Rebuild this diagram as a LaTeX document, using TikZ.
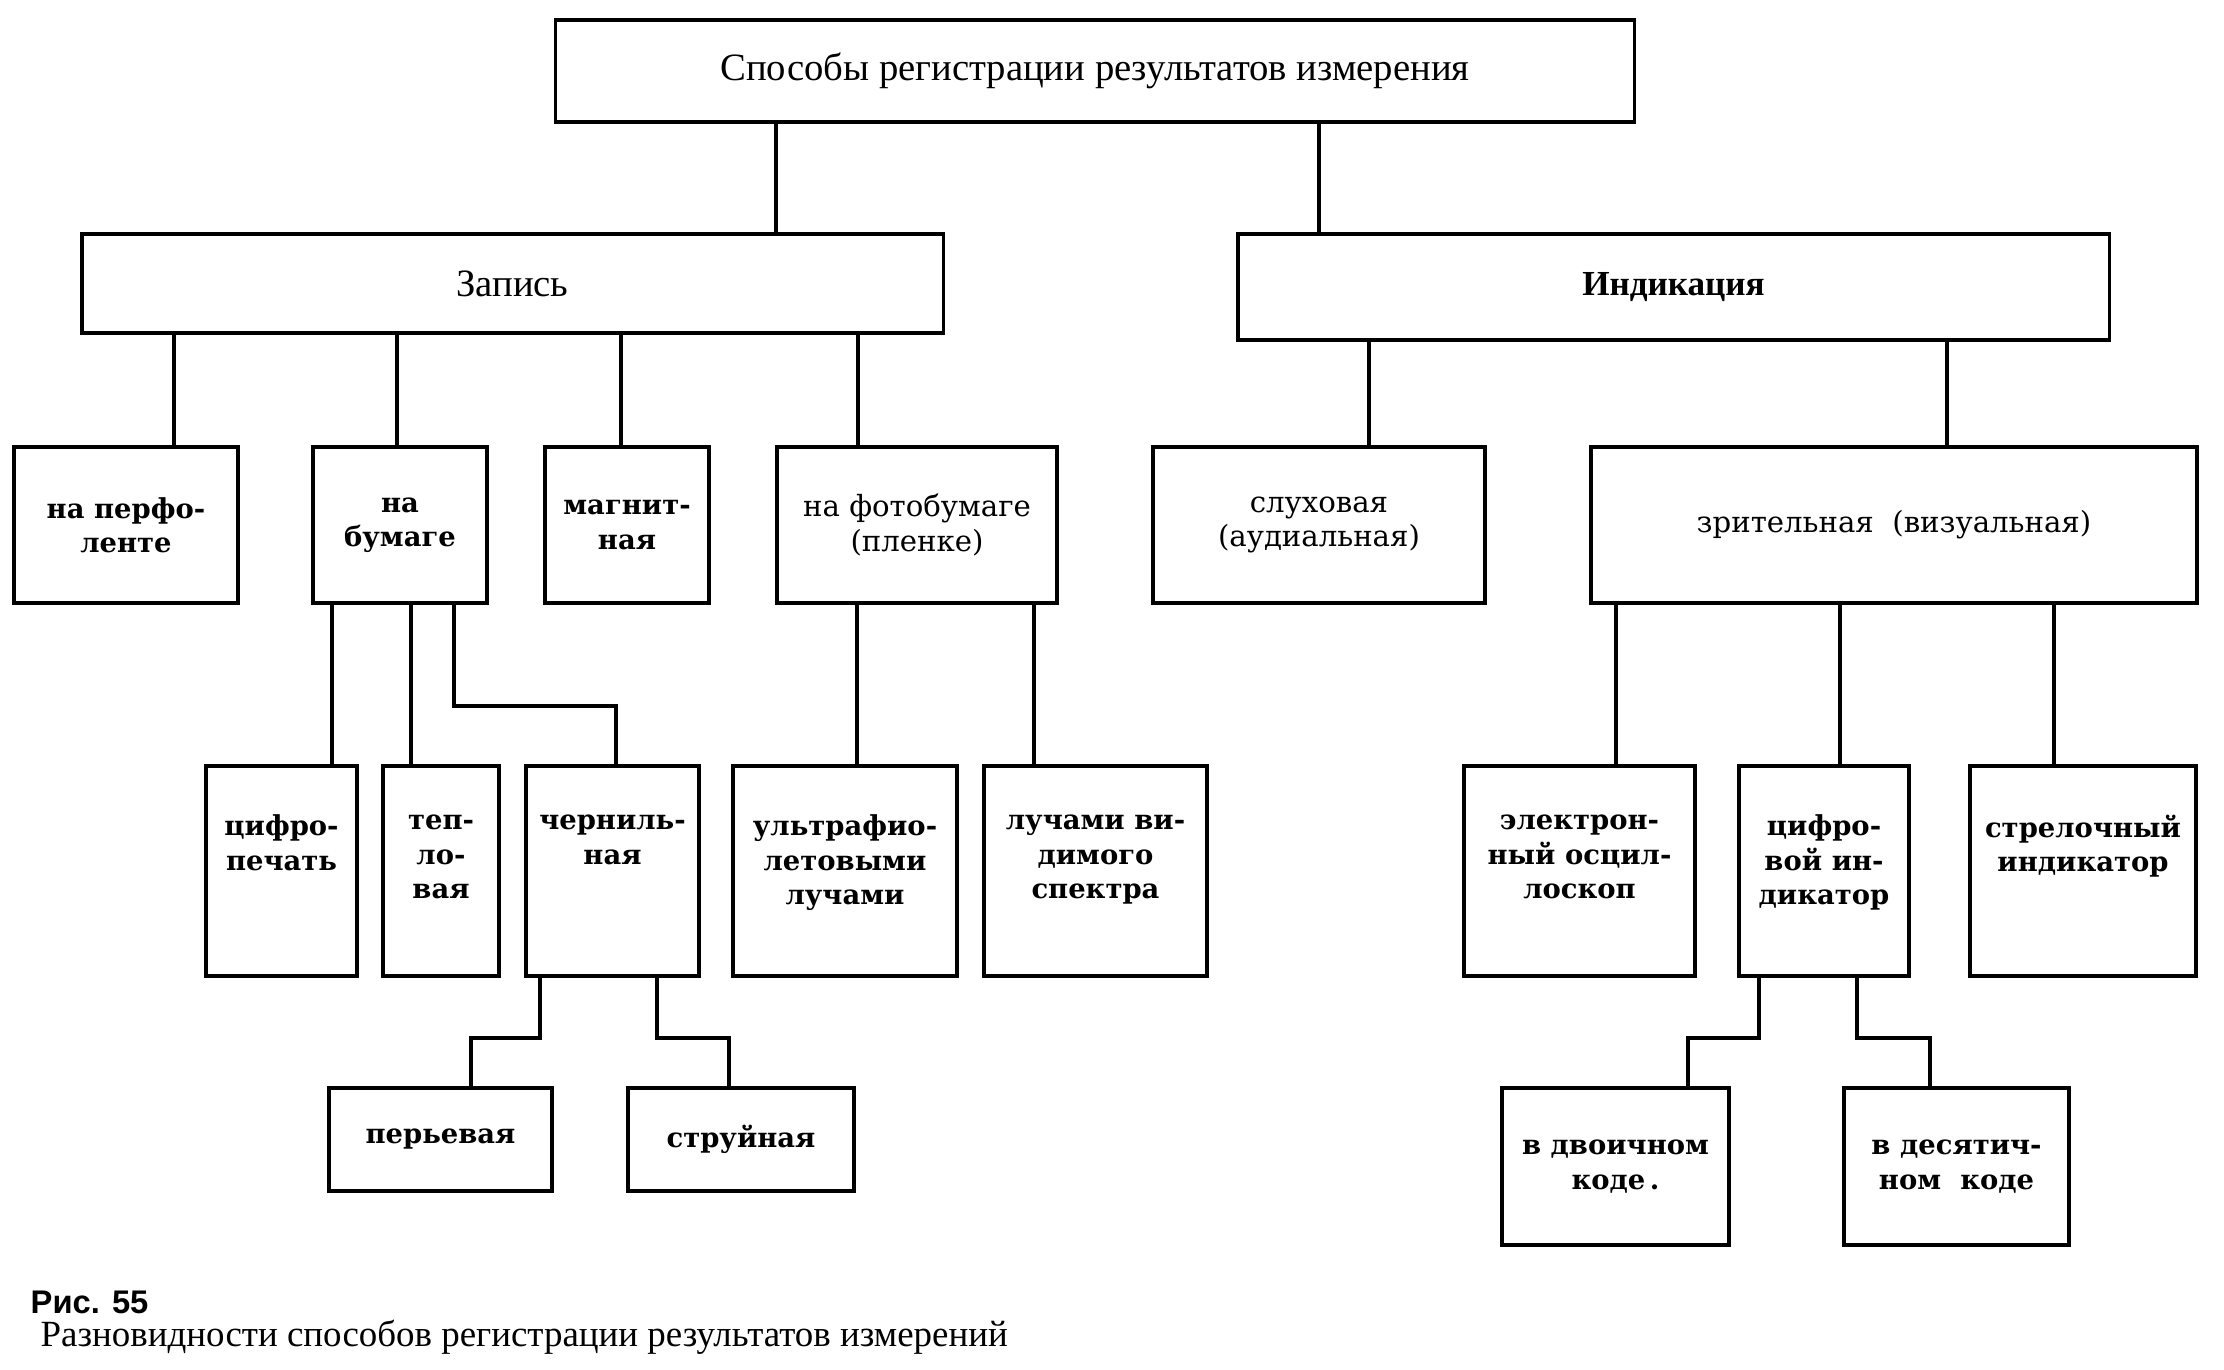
\documentclass[tikz,border=0pt]{standalone}
\usepackage{fontspec}
\setmainfont{Liberation Serif}
\newfontfamily\widefont{DejaVu Serif}
\newfontfamily\capfont{Liberation Sans}
\usetikzlibrary{positioning}

\tikzset{
  box/.style={draw, line width=1pt, inner sep=0pt, align=center},
  link/.style={line width=1pt},
  toptext/.style={font=\fontsize{11}{13}\selectfont},
  boldtext/.style={font=\widefont\bfseries\fontsize{7.8}{9.8}\selectfont},
  lighttext/.style={font=\widefont\fontsize{8.3}{9.8}\selectfont},
  lowtext/.style={boldtext, inner sep=0pt, align=center},
}

\begin{document}
\begin{tikzpicture}[x=0.01cm,y=-0.01cm]
    % поле рисунка
    \useasboundingbox[fill=white] (0,0) rectangle (2224,1369);

    % верхний уровень
    \node[box, toptext, minimum width=10.78cm, minimum height=1.02cm] (top) at (1095,71)
        {Способы регистрации результатов измерения};

    % первый уровень
    \node[box, toptext, minimum width=8.61cm, minimum height=0.99cm] (zap) at (512.5,283.5) {Запись};
    \node[box, toptext, font=\bfseries, minimum width=8.71cm, minimum height=1.06cm] (ind) at (1673.5,287) {Индикация};

    % второй уровень
    \node[box, boldtext, minimum width=2.24cm, minimum height=1.56cm] (perf) at (126,525) {на\ перфо-\\ленте};
    \node[box, boldtext, minimum width=1.74cm, minimum height=1.56cm] (bum) at (400,525) {на\\бумаге};
    \node[box, boldtext, minimum width=1.64cm, minimum height=1.56cm] (mag) at (627,525) {магнит-\\ная};
    \node[box, lighttext, minimum width=2.80cm, minimum height=1.56cm] (foto) at (917,525) {на\ фотобумаге\\(пленке)};
    \node[box, lighttext, minimum width=3.32cm, minimum height=1.56cm] (sluh) at (1319,525) {слуховая\\(аудиальная)};
    \node[box, lighttext, minimum width=6.06cm, minimum height=1.56cm] (zrit) at (1894,525) {зрительная\ \ (визуальная)};

    % третий уровень
    \node[box, minimum width=1.51cm, minimum height=2.10cm] (cif) at (281.5,871) {};
    \node[box, minimum width=1.16cm, minimum height=2.10cm] (tep) at (441,871) {};
    \node[box, minimum width=1.73cm, minimum height=2.10cm] (cher) at (612.5,871) {};
    \node[box, minimum width=2.24cm, minimum height=2.10cm] (ult) at (845,871) {};
    \node[box, minimum width=2.23cm, minimum height=2.10cm] (luch) at (1095.5,871) {};
    \node[box, minimum width=2.31cm, minimum height=2.10cm] (osc) at (1579.5,871) {};
    \node[box, minimum width=1.70cm, minimum height=2.10cm] (cind) at (1824,871) {};
    \node[box, minimum width=2.26cm, minimum height=2.10cm] (strel) at (2083,871) {};

    \node[lowtext, below=0.5cm of cif.north] (ciftx) {цифро-\\печать};
    \node[lowtext, below=0.5cm of tep.north] (teptx) {теп-\\ло-\\вая};
    \node[lowtext, below=0.5cm of cher.north] (chertx) {черниль-\\ная};
    \node[lowtext, below=0.5cm of ult.north] (ulttx) {ультрафио-\\летовыми\\лучами};
    \node[lowtext, below=0.5cm of luch.north] (luchtx) {лучами\ ви-\\димого\\спектра};
    \node[lowtext, below=0.5cm of osc.north] (osctx) {электрон-\\ный\ осцил-\\лоскоп};
    \node[lowtext, below=0.5cm of cind.north] (cindtx) {цифро-\\вой\ ин-\\дикатор};
    \node[lowtext, below=0.5cm of strel.north] (streltx) {стрелочный\\индикатор};

    % четвертый уровень
    \node[box, boldtext, minimum width=2.23cm, minimum height=1.03cm] (per) at (440.5,1139.5) {перьевая};
    \node[box, boldtext, minimum width=2.26cm, minimum height=1.03cm] (str) at (741,1139.5) {струйная};
    \node[box, boldtext, minimum width=2.27cm, minimum height=1.57cm] (dv) at (1615.5,1166.5) {в\ двоичном\\коде\,.};
    \node[box, boldtext, minimum width=2.25cm, minimum height=1.57cm] (des) at (1956.5,1166.5) {в\ десятич-\\ном\ \ коде};

    % связи верхнего уровня
    \draw[link] (top.south -| 776,0) -- (zap.north -| 776,0);
    \draw[link] (top.south -| 1319,0) -- (ind.north -| 1319,0);

    % связи записи
    \draw[link] (zap.south -| 174,0) -- (perf.north -| 174,0);
    \draw[link] (zap.south -| 397,0) -- (bum.north -| 397,0);
    \draw[link] (zap.south -| 621,0) -- (mag.north -| 621,0);
    \draw[link] (zap.south -| 858,0) -- (foto.north -| 858,0);

    % связи индикации
    \draw[link] (ind.south -| 1369,0) -- (sluh.north -| 1369,0);
    \draw[link] (ind.south -| 1947,0) -- (zrit.north -| 1947,0);

    % на бумаге
    \draw[link] (bum.south -| 332,0) -- (cif.north -| 332,0);
    \draw[link] (bum.south -| 411,0) -- (tep.north -| 411,0);
    \draw[link] (bum.south -| 454,0) |- (616,706) -- (cher.north -| 616,0);

    % на фотобумаге
    \draw[link] (foto.south -| 857,0) -- (ult.north -| 857,0);
    \draw[link] (foto.south -| 1034,0) -- (luch.north -| 1034,0);

    % зрительная
    \draw[link] (zrit.south -| 1616,0) -- (osc.north -| 1616,0);
    \draw[link] (zrit.south -| 1840,0) -- (cind.north -| 1840,0);
    \draw[link] (zrit.south -| 2054,0) -- (strel.north -| 2054,0);

    % чернильная
    \draw[link] (cher.south -| 540,0) |- (471,1038) -- (per.north -| 471,0);
    \draw[link] (cher.south -| 657,0) |- (729,1038) -- (str.north -| 729,0);

    % цифровой индикатор
    \draw[link] (cind.south -| 1759,0) |- (1688,1038) -- (dv.north -| 1688,0);
    \draw[link] (cind.south -| 1857,0) |- (1930,1038) -- (des.north -| 1930,0);

    % подпись
    \node[anchor=west, inner sep=0pt, font=\capfont\bfseries\fontsize{9.3}{11}\selectfont] (fignum) at (30,1302) {Рис. 55};
    \node[anchor=west, inner sep=0pt, font=\fontsize{10.5}{13}\selectfont] (figcap) at (40,1337)
        {Разновидности способов регистрации результатов измерений};
\end{tikzpicture}
\end{document}
